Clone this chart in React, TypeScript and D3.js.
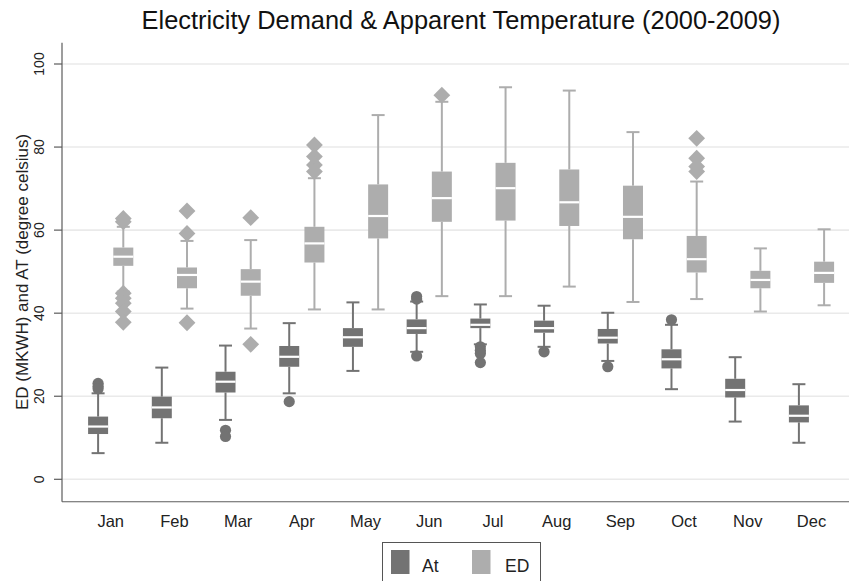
import React from "react";
import * as d3 from "d3";

const months = ["Jan", "Feb", "Mar", "Apr", "May", "Jun", "Jul", "Aug", "Sep", "Oct", "Nov", "Dec"];
const series = ["At", "ED"];
const seriesColors = ["#737373", "#ADADAD"];
const yTicks = [0, 20, 40, 60, 80, 100];

// At (apparent temperature)
const atLow = [6.3, 8.8, 14.3, 20.7, 26.1, 30.7, 32.5, 31.9, 28.5, 21.7, 13.9, 8.8];
const atQ1 = [10.9, 14.7, 20.9, 27.1, 31.9, 35.0, 36.4, 35.3, 32.7, 26.7, 19.7, 13.7];
const atMed = [12.7, 17.3, 23.5, 29.5, 34.2, 36.4, 37.2, 36.4, 34.1, 28.9, 21.5, 15.3];
const atQ3 = [15.1, 19.9, 25.9, 32.1, 36.4, 38.5, 38.7, 38.2, 36.2, 31.3, 24.2, 17.8];
const atHigh = [20.7, 26.9, 32.2, 37.6, 42.6, 42.8, 42.1, 41.8, 40.1, 37.2, 29.4, 22.9];
const atOutliers = [
  [23.1, 22.4, 21.8],
  [],
  [11.8, 10.3],
  [18.7],
  [],
  [44.0, 43.4, 29.7],
  [31.9, 31.0, 30.3, 28.1],
  [30.7],
  [27.1],
  [38.4],
  [],
  [],
];

// ED (electricity demand)
const edLow = [45.2, 41.1, 36.3, 40.9, 40.9, 44.1, 44.1, 46.4, 42.7, 43.4, 40.4, 41.9];
const edQ1 = [51.4, 46.0, 44.2, 52.2, 58.0, 62.0, 62.3, 61.0, 57.8, 49.8, 46.0, 47.3];
const edMed = [53.6, 49.2, 47.6, 56.8, 63.4, 67.7, 70.1, 66.7, 63.2, 53.0, 48.0, 49.7];
const edQ3 = [55.8, 51.0, 50.6, 60.8, 71.0, 74.1, 76.2, 74.6, 70.7, 58.6, 50.2, 52.4];
const edHigh = [60.8, 57.4, 57.6, 72.5, 87.7, 90.9, 94.4, 93.6, 83.6, 71.7, 55.6, 60.2];
const edOutliers = [
  [62.8, 62.0, 44.8, 43.6, 42.4, 40.4, 37.8],
  [64.6, 59.2, 37.7],
  [63.0, 32.5],
  [80.5, 77.7, 75.7, 74.1],
  [],
  [92.5],
  [],
  [],
  [],
  [82.1, 77.3, 75.3, 74.1],
  [],
  [],
];

const W = 849;
const H = 581;

export default function App() {
  const x = d3.scalePoint<string>().domain(months).range([110.7, 811.5]);
  const sub = d3.scalePoint<string>().domain(series).range([-12.6, 12.6]);
  const y = d3.scaleLinear().domain([0, 100]).range([479.3, 64]);
  const plotLeft = 62;
  const plotRight = W;
  const plotTop = y(105.1);
  const plotBottom = y(-5.4);
  const boxW = 20;
  const capW = 13;

  const stats = [
    { low: atLow, q1: atQ1, med: atMed, q3: atQ3, high: atHigh, out: atOutliers },
    { low: edLow, q1: edQ1, med: edMed, q3: edQ3, high: edHigh, out: edOutliers },
  ];

  const font = "'Liberation Sans', Arial, sans-serif";
  const diamond = d3.symbol().type(d3.symbolDiamond2).size(180)() as string;

  return (
    <svg width={W} height={H} style={{ position: "absolute", left: 0, top: 0, background: "#fff" }} fontFamily={font}>
      <rect x={0} y={0} width={W} height={H} fill="#fff" />
      {/* gridlines */}
      {yTicks.map((t) => (
        <line key={"g" + t} x1={plotLeft} x2={plotRight} y1={y(t)} y2={y(t)} stroke="#EAEAEA" strokeWidth={1.6} />
      ))}
      {/* axes */}
      <line x1={plotLeft} x2={plotLeft} y1={plotTop} y2={plotBottom} stroke="#5c5c5c" strokeWidth={1.2} />
      <line x1={plotLeft} x2={plotRight} y1={plotBottom} y2={plotBottom} stroke="#5c5c5c" strokeWidth={1.2} />
      {yTicks.map((t) => (
        <g key={"t" + t}>
          <line x1={plotLeft - 8} x2={plotLeft} y1={y(t)} y2={y(t)} stroke="#5c5c5c" strokeWidth={1.2} />
          <text
            transform={`translate(${43.5},${y(t)}) rotate(-90)`}
            textAnchor="middle"
            fontSize={14}
            fill="#222"
          >
            {t}
          </text>
        </g>
      ))}
      <text transform={`translate(${28},${272}) rotate(-90)`} textAnchor="middle" fontSize={17} fill="#222">
        ED (MKWH) and AT (degree celsius)
      </text>

      {/* boxes */}
      {stats.map((s, si) => (
        <g key={"s" + si}>
          {months.map((m, i) => {
            const cx = (x(m) as number) + (sub(series[si]) as number);
            const color = seriesColors[si];
            return (
              <g key={m}>
                <line x1={cx} x2={cx} y1={y(s.high[i])} y2={y(s.q3[i])} stroke={color} strokeWidth={2} />
                <line x1={cx} x2={cx} y1={y(s.q1[i])} y2={y(s.low[i])} stroke={color} strokeWidth={2} />
                <line x1={cx - capW / 2} x2={cx + capW / 2} y1={y(s.high[i])} y2={y(s.high[i])} stroke={color} strokeWidth={2} />
                <line x1={cx - capW / 2} x2={cx + capW / 2} y1={y(s.low[i])} y2={y(s.low[i])} stroke={color} strokeWidth={2} />
                <rect
                  x={cx - boxW / 2}
                  y={y(s.q3[i])}
                  width={boxW}
                  height={y(s.q1[i]) - y(s.q3[i])}
                  fill={color}
                />
                <line x1={cx - boxW / 2} x2={cx + boxW / 2} y1={y(s.med[i])} y2={y(s.med[i])} stroke="#fff" strokeWidth={2.2} />
                {s.out[i].map((o, k) =>
                  si === 0 ? (
                    <circle key={k} cx={cx} cy={y(o)} r={5.6} fill={color} />
                  ) : (
                    <path key={k} d={diamond} transform={`translate(${cx},${y(o)})`} fill={color} />
                  )
                )}
              </g>
            );
          })}
        </g>
      ))}

      {/* category labels */}
      {months.map((m) => (
        <text key={"l" + m} x={x(m)} y={527} textAnchor="middle" fontSize={16.5} fill="#222">
          {m}
        </text>
      ))}

      {/* title */}
      <text x={461} y={29} textAnchor="middle" fontSize={25.4} fill="#111">
        Electricity Demand &amp; Apparent Temperature (2000-2009)
      </text>

      {/* legend */}
      <rect x={382.5} y={542.5} width={158} height={50} fill="#fff" stroke="#555" strokeWidth={1} />
      {series.map((s, i) => (
        <g key={"lg" + s}>
          <rect x={391 + i * 81} y={550} width={18.5} height={24} fill={seriesColors[i]} />
          <text x={422 + i * 83} y={572} fontSize={17.5} fill="#222">
            {s}
          </text>
        </g>
      ))}
    </svg>
  );
}
